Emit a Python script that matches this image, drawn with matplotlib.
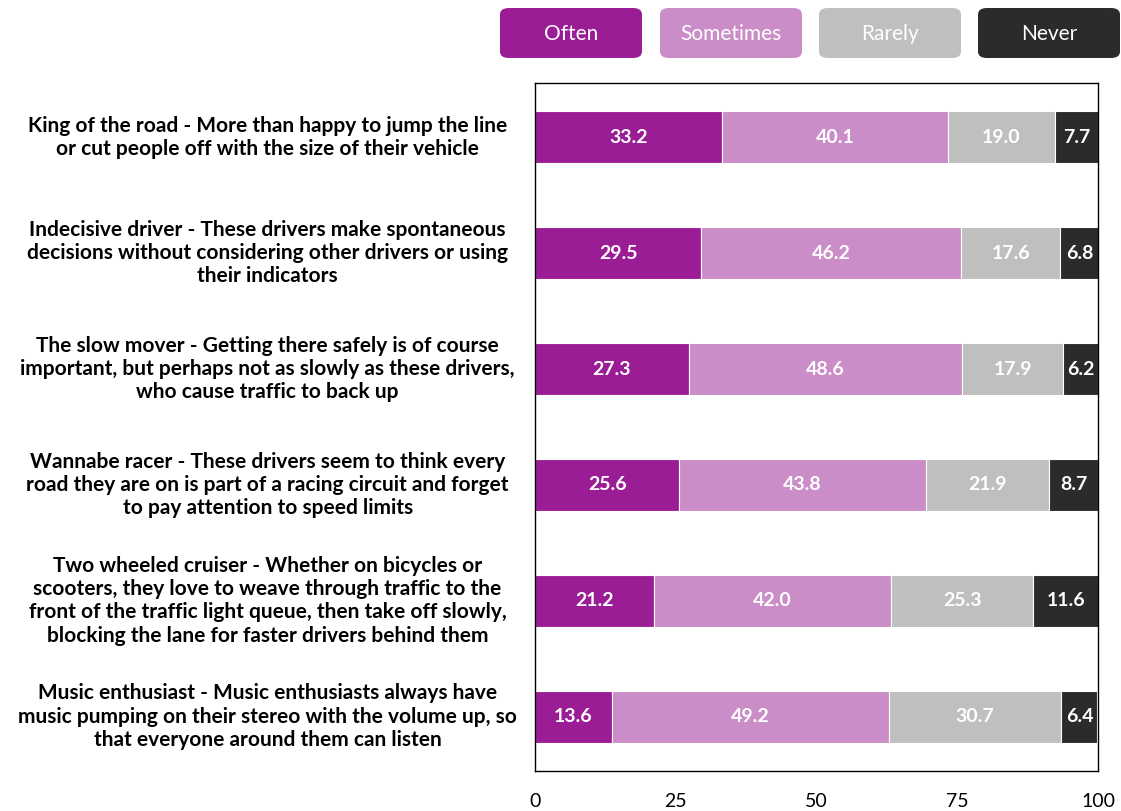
import matplotlib.pyplot as plt
from matplotlib.patches import FancyBboxPatch
import numpy as np

plt.rcParams['font.family'] = ['Lato', 'DejaVu Sans']

labels = [
    'King of the road - More than happy to jump the line\nor cut people off with the size of their vehicle',
    'Indecisive driver - These drivers make spontaneous\ndecisions without considering other drivers or using\ntheir indicators',
    'The slow mover - Getting there safely is of course\nimportant, but perhaps not as slowly as these drivers,\nwho cause traffic to back up',
    'Wannabe racer - These drivers seem to think every\nroad they are on is part of a racing circuit and forget\nto pay attention to speed limits',
    'Two wheeled cruiser - Whether on bicycles or\nscooters, they love to weave through traffic to the\nfront of the traffic light queue, then take off slowly,\nblocking the lane for faster drivers behind them',
    'Music enthusiast - Music enthusiasts always have\nmusic pumping on their stereo with the volume up, so\nthat everyone around them can listen',
]
often = [33.2, 29.5, 27.3, 25.6, 21.2, 13.6]
sometimes = [40.1, 46.2, 48.6, 43.8, 42.0, 49.2]
rarely = [19.0, 17.6, 17.9, 21.9, 25.3, 30.7]
never = [7.7, 6.8, 6.2, 8.7, 11.6, 6.4]

series = ['Often', 'Sometimes', 'Rarely', 'Never']
colors = ['#9B1D96', '#CA8DC8', '#BFBFBF', '#2B2B2B']

fig = plt.figure(figsize=(11.21, 8.11), dpi=100)
ax = fig.add_axes([535 / 1121, 1 - 771 / 811, 563 / 1121, 688 / 811])

y = np.arange(len(labels))
left = np.zeros(len(labels))
for name, vals, c in zip(series, [often, sometimes, rarely, never], colors):
    vals = np.array(vals)
    ax.barh(y, vals, left=left, height=0.45, color=c, edgecolor='white', linewidth=0.8)
    for yi, l, v in zip(y, left, vals):
        ax.text(l + v / 2, yi, f'{v:.1f}', ha='center', va='center',
                color='white', fontsize=14, fontweight='bold')
    left += vals

ax.set_xlim(0, 100)
ax.set_ylim(len(labels) - 0.53, -0.47)
ax.set_xticks([0, 25, 50, 75, 100])
ax.tick_params(axis='x', length=0, pad=16, labelsize=14)
ax.set_yticks([])
for s in ax.spines.values():
    s.set_color('black')
    s.set_linewidth(1)

for yi, lab in zip(y, labels):
    ax.text(-0.475, yi, lab, transform=ax.get_yaxis_transform(), ha='center', va='center',
            multialignment='center', fontsize=15, fontweight='bold', linespacing=1.2)

# legend boxes
xs = [500, 660, 819, 978]
for x0, name, c in zip(xs, series, colors):
    box = FancyBboxPatch((x0 / 1121, 1 - 58 / 811), 142 / 1121, 50 / 811,
                         boxstyle='round,pad=0,rounding_size=0.008',
                         transform=fig.transFigure, facecolor=c, edgecolor='none')
    fig.patches.append(box)
    fig.text((x0 + 71) / 1121, 1 - 34 / 811, name, ha='center', va='center',
             color='white', fontsize=15)

fig.savefig('out.png', dpi=100)
